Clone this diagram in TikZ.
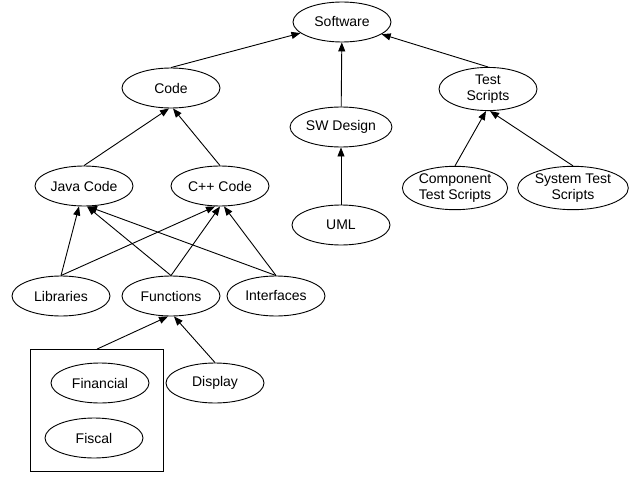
\documentclass[tikz,border=0pt]{standalone}
\usepackage{fontspec}
\setmainfont{Liberation Sans}
\usetikzlibrary{shapes.geometric,arrows.meta,fit}
\begin{document}
\begin{tikzpicture}[x=1pt, y=-1pt, line width=0.9pt,
  every node/.style={font=\fontsize{14pt}{16pt}\selectfont},
  ell/.style={draw, ellipse, align=center, inner sep=1pt, minimum width=98pt, minimum height=40pt},
  dep/.style={-{Triangle[length=9pt,width=7pt]}}]
  \useasboundingbox (0,0) rectangle (639,476);

  \node[ell] (sw) at (342,22) {Software};
  \node[ell] (code) at (171,88) {Code};
  \node[ell] (design) at (341,127) {SW Design};
  \node[ell] (test) at (488,89) {Test\\Scripts};
  \draw[dep] (code.north) -- (sw);
  \draw[dep] (design) -- (sw);
  \draw[dep] (test.north) -- (sw);

  \node[ell] (java) at (84,186) {Java Code};
  \node[ell] (cpp) at (220,186) {C++ Code};
  \draw[dep] (java.north) -- ([xshift=-2pt]code.south);
  \draw[dep] (cpp.north) -- ([xshift=2pt]code.south);

  \node[ell] (uml) at (341,225) {UML};
  \draw[dep] (uml) -- (design);

  \node[ell] (comp) at (455,188) {Component\\Test Scripts};
  \node[ell] (sys) at (573,188) {System Test\\Scripts};
  \draw[dep] (comp.north) -- ([xshift=-2pt]test.south);
  \draw[dep] (sys.north) -- ([xshift=2pt]test.south);

  \node[ell] (lib) at (61,296) {Libraries};
  \node[ell] (fn) at (171,296) {Functions};
  \node[ell] (intf) at (276,296) {Interfaces};
  \draw[dep] (lib.north) -- ([xshift=-5pt]java.south);
  \draw[dep] (lib.north) -- ([xshift=-5pt]cpp.south);
  \draw[dep] (fn.north) -- ([xshift=3pt]java.south);
  \draw[dep] (fn.north) -- (cpp.south);
  \draw[dep] (intf.north) -- ([xshift=4pt]java.south);
  \draw[dep] (intf.north) -- ([xshift=4pt]cpp.south);

  \node[ell] (fin) at (100,383) {Financial};
  \node[ell] (fisc) at (94,438) {Fiscal};
  \node[draw, rectangle, fit=(fin)(fisc), inner xsep=14pt, inner ysep=13pt] (grp) {};
  \node[ell] (disp) at (215,383) {Display};
  \draw[dep] (grp.north) -- ([xshift=-3pt]fn.south);
  \draw[dep] (disp.north) -- ([xshift=3pt]fn.south);

\end{tikzpicture}
\end{document}
